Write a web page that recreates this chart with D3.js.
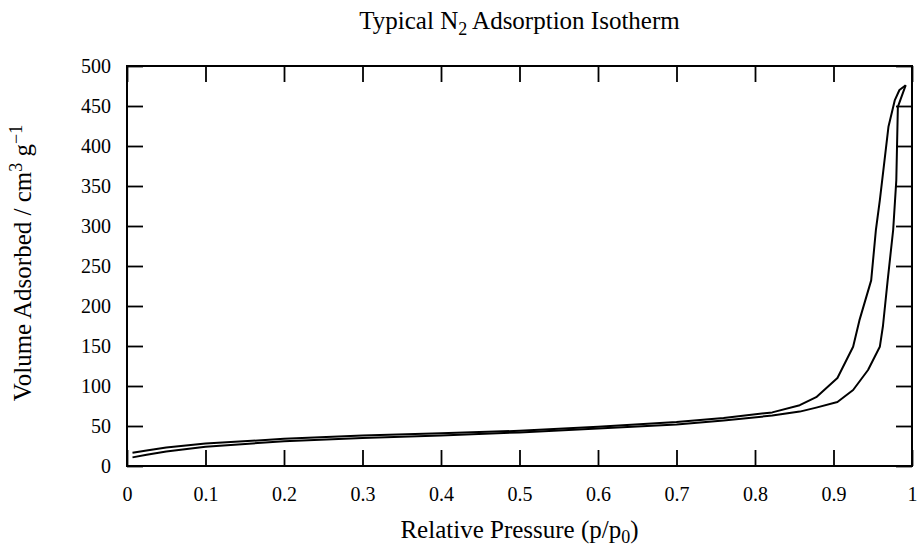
<!DOCTYPE html>
<html>
<head>
<meta charset="utf-8">
<script src="https://cdn.jsdelivr.net/npm/d3@7"></script>
<style>
  body { margin: 0; background: #fff; }
  svg { display: block; font-family: "Liberation Serif", "DejaVu Serif", serif; }
</style>
</head>
<body>
<svg id="chart"></svg>
<script>
// upper branch (desorption)
const desPressure = [0.007, 0.025, 0.05, 0.1, 0.2, 0.3, 0.4, 0.5, 0.6, 0.7, 0.76, 0.822, 0.857, 0.878, 0.905, 0.925, 0.933, 0.948, 0.954, 0.959, 0.962, 0.970, 0.978, 0.984, 0.992];
const desVolume   = [16.6, 19.5, 23, 28, 34, 38, 41, 44, 49, 55, 60, 67, 76, 86, 110, 149, 182, 232, 295, 332, 357, 424, 457, 470, 476];

// lower branch (adsorption)
const adsPressure = [0.007, 0.025, 0.05, 0.1, 0.2, 0.3, 0.4, 0.5, 0.6, 0.7, 0.76, 0.822, 0.857, 0.878, 0.905, 0.925, 0.944, 0.959, 0.963, 0.969, 0.976, 0.980, 0.982, 0.992];
const adsVolume   = [10.8, 14, 18, 24, 31, 35, 38, 42, 47, 52, 57, 63, 68, 73, 80, 95, 120, 149, 175, 232, 295, 357, 449, 476];

const xTicks = [0, 0.1, 0.2, 0.3, 0.4, 0.5, 0.6, 0.7, 0.8, 0.9, 1];
const yTicks = [0, 50, 100, 150, 200, 250, 300, 350, 400, 450, 500];

const width = 919, height = 550;
const margin = { top: 66, right: 7, bottom: 84, left: 127 };
const tick = 16;

const svg = d3.select("#chart").attr("width", width).attr("height", height);

const x = d3.scaleLinear().domain([0, 1]).range([margin.left, width - margin.right]);
const y = d3.scaleLinear().domain([0, 500]).range([height - margin.bottom, margin.top]);

const fmt = d3.format("~g");

// axes, ticks pointing inward
svg.append("g")
  .attr("transform", `translate(0,${y(0)})`)
  .call(d3.axisBottom(x).tickValues(xTicks).tickSize(-tick).tickPadding(21).tickFormat(fmt));
svg.append("g")
  .attr("transform", `translate(${x(0)},0)`)
  .call(d3.axisLeft(y).tickValues(yTicks).tickSize(-tick).tickPadding(16).tickFormat(fmt));
svg.append("g")
  .attr("transform", `translate(0,${y(500)})`)
  .call(d3.axisTop(x).tickValues(xTicks).tickSize(-tick).tickFormat(""));
svg.append("g")
  .attr("transform", `translate(${x(1)},0)`)
  .call(d3.axisRight(y).tickValues(yTicks).tickSize(-tick).tickFormat(""));

svg.selectAll(".domain").remove();
svg.selectAll(".tick line").attr("stroke", "#000").attr("stroke-width", 1.8);
svg.selectAll(".tick text")
  .attr("fill", "#000")
  .style("font-family", "Liberation Serif, DejaVu Serif, serif")
  .style("font-size", "20px");

// frame
svg.append("rect")
  .attr("x", x(0)).attr("y", y(500))
  .attr("width", x(1) - x(0)).attr("height", y(0) - y(500))
  .attr("fill", "none").attr("stroke", "#000").attr("stroke-width", 2);

// curves
const line = d3.line().x(d => x(d[0])).y(d => y(d[1]));
const des = d3.zip(desPressure, desVolume);
const ads = d3.zip(adsPressure, adsVolume);

svg.append("path").datum(des)
  .attr("d", line).attr("fill", "none")
  .attr("stroke", "#000").attr("stroke-width", 2).attr("stroke-linejoin", "round");
svg.append("path").datum(ads)
  .attr("d", line).attr("fill", "none")
  .attr("stroke", "#000").attr("stroke-width", 2).attr("stroke-linejoin", "round");

// title
const title = svg.append("text")
  .attr("x", (x(0) + x(1)) / 2).attr("y", 29)
  .attr("text-anchor", "middle").style("font-size", "25px");
title.append("tspan").text("Typical N");
title.append("tspan").attr("dy", 6).style("font-size", "18px").text("2");
title.append("tspan").attr("dy", -6).text(" Adsorption Isotherm");

// x label
const xl = svg.append("text")
  .attr("x", (x(0) + x(1)) / 2).attr("y", 538)
  .attr("text-anchor", "middle").style("font-size", "25px");
xl.append("tspan").text("Relative Pressure (p/p");
xl.append("tspan").attr("dy", 5).style("font-size", "18px").text("0");
xl.append("tspan").attr("dy", -5).text(")");

// y label
const yl = svg.append("text")
  .attr("transform", `translate(31,${(y(0) + y(500)) / 2 - 3}) rotate(-90)`)
  .attr("text-anchor", "middle").style("font-size", "25px");
yl.append("tspan").text("Volume Adsorbed / cm");
yl.append("tspan").attr("dy", -9).style("font-size", "18px").text("3");
yl.append("tspan").attr("dy", 9).text(" g");
yl.append("tspan").attr("dy", -9).style("font-size", "18px").text("\u22121");
</script>
</body>
</html>
